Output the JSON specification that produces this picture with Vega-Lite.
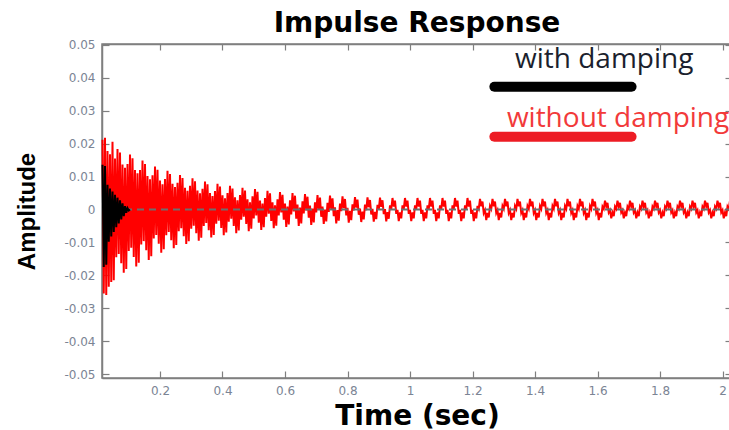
{
"$schema": "https://vega.github.io/schema/vega-lite/v6.json",
"width": 630,
"height": 334,
"autosize": "none",
"padding": {"left": 102, "top": 44, "right": 0, "bottom": 52},
"background": "white",
"title": {"text": "Impulse Response", "font": "DejaVu Sans", "fontSize": 28, "fontWeight": "bold", "color": "#000000", "anchor": "middle", "frame": "group", "offset": 1},
"config": {
  "view": {"stroke": "#7f7f7f", "strokeWidth": 1.5},
  "axis": {"grid": false, "domainColor": "#7f7f7f", "domainWidth": 1.5, "tickColor": "#7f7f7f", "tickWidth": 1.2, "labelFont": "DejaVu Sans", "labelFontSize": 12, "labelColor": "#7b8494", "labelFlush": false, "labelOverlap": false}
},
"datasets": {
"red": [
{"t":0.016,"a":0.0212},{"t":0.02,"a":-0.0255},{"t":0.024,"a":0.0218},{"t":0.028,"a":-0.026},{"t":0.032,"a":0.0178},{"t":0.036,"a":-0.0235},{"t":0.04,"a":0.0168},{"t":0.044,"a":-0.022},{"t":0.048,"a":0.0206},{"t":0.052,"a":-0.0215},
{"t":0.056,"a":0.0155},{"t":0.06,"a":-0.0145},{"t":0.064,"a":0.0184},{"t":0.068,"a":-0.0135},{"t":0.072,"a":0.0173},{"t":0.076,"a":-0.0163},{"t":0.08,"a":0.0137},{"t":0.084,"a":-0.0192},{"t":0.088,"a":0.0127},{"t":0.092,"a":-0.0181},
{"t":0.096,"a":0.0138},{"t":0.1,"a":-0.0126},{"t":0.104,"a":0.0167},{"t":0.108,"a":-0.0116},{"t":0.112,"a":0.0156},{"t":0.116,"a":-0.0144},{"t":0.12,"a":0.012},{"t":0.124,"a":-0.0173},{"t":0.128,"a":0.011},{"t":0.132,"a":-0.0162},
{"t":0.136,"a":0.012},{"t":0.14,"a":-0.0106},{"t":0.144,"a":0.0149},{"t":0.148,"a":-0.0096},{"t":0.152,"a":0.0138},{"t":0.156,"a":-0.0124},{"t":0.16,"a":0.0102},{"t":0.164,"a":-0.0153},{"t":0.168,"a":0.0092},{"t":0.172,"a":-0.0142},
{"t":0.176,"a":0.0104},{"t":0.18,"a":-0.0088},{"t":0.184,"a":0.0131},{"t":0.188,"a":-0.0077},{"t":0.192,"a":0.0121},{"t":0.196,"a":-0.0104},{"t":0.2,"a":0.0088},{"t":0.204,"a":-0.0131},{"t":0.208,"a":0.0077},{"t":0.212,"a":-0.0121},
{"t":0.216,"a":0.0093},{"t":0.22,"a":-0.0078},{"t":0.224,"a":0.0118},{"t":0.228,"a":-0.0068},{"t":0.232,"a":0.0108},{"t":0.236,"a":-0.0093},{"t":0.24,"a":0.0078},{"t":0.244,"a":-0.0118},{"t":0.248,"a":0.0068},{"t":0.252,"a":-0.0108},
{"t":0.256,"a":0.0081},{"t":0.26,"a":-0.0066},{"t":0.264,"a":0.0105},{"t":0.268,"a":-0.0057},{"t":0.272,"a":0.0096},{"t":0.276,"a":-0.0081},{"t":0.28,"a":0.0066},{"t":0.284,"a":-0.0105},{"t":0.288,"a":0.0057},{"t":0.292,"a":-0.0096},
{"t":0.296,"a":0.0072},{"t":0.3,"a":-0.0058},{"t":0.304,"a":0.0095},{"t":0.308,"a":-0.0049},{"t":0.312,"a":0.0086},{"t":0.316,"a":-0.0072},{"t":0.32,"a":0.0058},{"t":0.324,"a":-0.0095},{"t":0.328,"a":0.0049},{"t":0.332,"a":-0.0086},
{"t":0.336,"a":0.0063},{"t":0.34,"a":-0.005},{"t":0.344,"a":0.0085},{"t":0.348,"a":-0.0041},{"t":0.352,"a":0.0077},{"t":0.356,"a":-0.0063},{"t":0.36,"a":0.005},{"t":0.364,"a":-0.0085},{"t":0.368,"a":0.0041},{"t":0.372,"a":-0.0077},
{"t":0.376,"a":0.0056},{"t":0.38,"a":-0.0043},{"t":0.384,"a":0.0078},{"t":0.388,"a":-0.0034},{"t":0.392,"a":0.007},{"t":0.396,"a":-0.0056},{"t":0.4,"a":0.0043},{"t":0.404,"a":-0.0078},{"t":0.408,"a":0.0034},{"t":0.412,"a":-0.007},
{"t":0.416,"a":0.005},{"t":0.42,"a":-0.0037},{"t":0.424,"a":0.0072},{"t":0.428,"a":-0.0028},{"t":0.432,"a":0.0064},{"t":0.436,"a":-0.005},{"t":0.44,"a":0.0037},{"t":0.444,"a":-0.0072},{"t":0.448,"a":0.0028},{"t":0.452,"a":-0.0064},
{"t":0.456,"a":0.0044},{"t":0.46,"a":-0.0031},{"t":0.464,"a":0.0066},{"t":0.468,"a":-0.0022},{"t":0.472,"a":0.0058},{"t":0.476,"a":-0.0044},{"t":0.48,"a":0.0031},{"t":0.484,"a":-0.0066},{"t":0.488,"a":0.0022},{"t":0.492,"a":-0.0058},
{"t":0.496,"a":0.004},{"t":0.5,"a":-0.0027},{"t":0.504,"a":0.0062},{"t":0.508,"a":-0.0018},{"t":0.512,"a":0.0054},{"t":0.516,"a":-0.004},{"t":0.52,"a":0.0027},{"t":0.524,"a":-0.0062},{"t":0.528,"a":0.0018},{"t":0.532,"a":-0.0054},
{"t":0.536,"a":0.0035},{"t":0.54,"a":-0.0022},{"t":0.544,"a":0.0057},{"t":0.548,"a":-0.0013},{"t":0.552,"a":0.0049},{"t":0.556,"a":-0.0035},{"t":0.56,"a":0.0022},{"t":0.564,"a":-0.0057},{"t":0.568,"a":0.0013},{"t":0.572,"a":-0.0049},
{"t":0.576,"a":0.0031},{"t":0.58,"a":-0.0018},{"t":0.584,"a":0.0053},{"t":0.588,"a":-0.0009},{"t":0.592,"a":0.0045},{"t":0.596,"a":-0.0031},{"t":0.6,"a":0.0018},{"t":0.604,"a":-0.0053},{"t":0.608,"a":0.0009},{"t":0.612,"a":-0.0045},
{"t":0.616,"a":0.0028},{"t":0.62,"a":-0.0015},{"t":0.624,"a":0.005},{"t":0.628,"a":-0.0006},{"t":0.632,"a":0.0042},{"t":0.636,"a":-0.0028},{"t":0.64,"a":0.0015},{"t":0.644,"a":-0.005},{"t":0.648,"a":0.0006},{"t":0.652,"a":-0.0042},
{"t":0.656,"a":0.0025},{"t":0.66,"a":-0.0012},{"t":0.664,"a":0.0047},{"t":0.668,"a":-0.0003},{"t":0.672,"a":0.0039},{"t":0.676,"a":-0.0025},{"t":0.68,"a":0.0012},{"t":0.684,"a":-0.0047},{"t":0.688,"a":0.0003},{"t":0.692,"a":-0.0039},
{"t":0.696,"a":0.0022},{"t":0.7,"a":-0.0009},{"t":0.704,"a":0.0044},{"t":0.708,"a":0},{"t":0.712,"a":0.0036},{"t":0.716,"a":-0.0022},{"t":0.72,"a":0.0009},{"t":0.724,"a":-0.0044},{"t":0.728,"a":0},{"t":0.732,"a":-0.0036},
{"t":0.736,"a":0.002},{"t":0.74,"a":-0.0007},{"t":0.744,"a":0.0042},{"t":0.748,"a":0.0002},{"t":0.752,"a":0.0034},{"t":0.756,"a":-0.002},{"t":0.76,"a":0.0007},{"t":0.764,"a":-0.0042},{"t":0.768,"a":-0.0002},{"t":0.772,"a":-0.0034},
{"t":0.776,"a":0.0018},{"t":0.78,"a":-0.0005},{"t":0.784,"a":0.004},{"t":0.788,"a":0.0004},{"t":0.792,"a":0.0032},{"t":0.796,"a":-0.0018},{"t":0.8,"a":0.0005},{"t":0.804,"a":-0.004},{"t":0.808,"a":-0.0004},{"t":0.812,"a":-0.0032},
{"t":0.816,"a":0.0016},{"t":0.82,"a":-0.0003},{"t":0.824,"a":0.0038},{"t":0.828,"a":0.0006},{"t":0.832,"a":0.003},{"t":0.836,"a":-0.0016},{"t":0.84,"a":0.0003},{"t":0.844,"a":-0.0038},{"t":0.848,"a":-0.0006},{"t":0.852,"a":-0.003},
{"t":0.856,"a":0.0015},{"t":0.86,"a":-0.0002},{"t":0.864,"a":0.0037},{"t":0.868,"a":0.0007},{"t":0.872,"a":0.0029},{"t":0.876,"a":-0.0015},{"t":0.88,"a":0.0002},{"t":0.884,"a":-0.0037},{"t":0.888,"a":-0.0007},{"t":0.892,"a":-0.0029},
{"t":0.896,"a":0.0014},{"t":0.9,"a":-0.0001},{"t":0.904,"a":0.0036},{"t":0.908,"a":0.0008},{"t":0.912,"a":0.0028},{"t":0.916,"a":-0.0014},{"t":0.92,"a":0.0001},{"t":0.924,"a":-0.0036},{"t":0.928,"a":-0.0008},{"t":0.932,"a":-0.0028},
{"t":0.936,"a":0.0013},{"t":0.94,"a":0.0001},{"t":0.944,"a":0.0035},{"t":0.948,"a":0.0009},{"t":0.952,"a":0.0027},{"t":0.956,"a":-0.0013},{"t":0.96,"a":-0.0001},{"t":0.964,"a":-0.0035},{"t":0.968,"a":-0.0009},{"t":0.972,"a":-0.0027},
{"t":0.976,"a":0.0013},{"t":0.98,"a":0.0001},{"t":0.984,"a":0.0035},{"t":0.988,"a":0.0009},{"t":0.992,"a":0.0027},{"t":0.996,"a":-0.0013},{"t":1,"a":-0.0001},{"t":1.004,"a":-0.0035},{"t":1.008,"a":-0.0009},{"t":1.012,"a":-0.0027},
{"t":1.016,"a":0.0013},{"t":1.02,"a":0.0001},{"t":1.024,"a":0.0035},{"t":1.028,"a":0.0009},{"t":1.032,"a":0.0027},{"t":1.036,"a":-0.0013},{"t":1.04,"a":-0.0001},{"t":1.044,"a":-0.0035},{"t":1.048,"a":-0.0009},{"t":1.052,"a":-0.0027},
{"t":1.056,"a":0.0013},{"t":1.06,"a":0.0001},{"t":1.064,"a":0.0035},{"t":1.068,"a":0.0009},{"t":1.072,"a":0.0027},{"t":1.076,"a":-0.0013},{"t":1.08,"a":-0.0001},{"t":1.084,"a":-0.0035},{"t":1.088,"a":-0.0009},{"t":1.092,"a":-0.0027},
{"t":1.096,"a":0.0013},{"t":1.1,"a":0.0001},{"t":1.104,"a":0.0035},{"t":1.108,"a":0.0009},{"t":1.112,"a":0.0027},{"t":1.116,"a":-0.0013},{"t":1.12,"a":-0.0001},{"t":1.124,"a":-0.0035},{"t":1.128,"a":-0.0009},{"t":1.132,"a":-0.0027},
{"t":1.136,"a":0.0013},{"t":1.14,"a":0.0001},{"t":1.144,"a":0.0035},{"t":1.148,"a":0.0009},{"t":1.152,"a":0.0027},{"t":1.156,"a":-0.0013},{"t":1.16,"a":-0.0001},{"t":1.164,"a":-0.0035},{"t":1.168,"a":-0.0009},{"t":1.172,"a":-0.0027},
{"t":1.176,"a":0.0013},{"t":1.18,"a":0.0001},{"t":1.184,"a":0.0035},{"t":1.188,"a":0.0009},{"t":1.192,"a":0.0027},{"t":1.196,"a":-0.0013},{"t":1.2,"a":-0.0001},{"t":1.204,"a":-0.0035},{"t":1.208,"a":-0.0009},{"t":1.212,"a":-0.0027},
{"t":1.216,"a":0.0011},{"t":1.22,"a":0.0002},{"t":1.224,"a":0.0032},{"t":1.228,"a":0.001},{"t":1.232,"a":0.0024},{"t":1.236,"a":-0.0011},{"t":1.24,"a":-0.0002},{"t":1.244,"a":-0.0032},{"t":1.248,"a":-0.001},{"t":1.252,"a":-0.0024},
{"t":1.256,"a":0.0011},{"t":1.26,"a":0.0002},{"t":1.264,"a":0.0032},{"t":1.268,"a":0.001},{"t":1.272,"a":0.0024},{"t":1.276,"a":-0.0011},{"t":1.28,"a":-0.0002},{"t":1.284,"a":-0.0032},{"t":1.288,"a":-0.001},{"t":1.292,"a":-0.0024},
{"t":1.296,"a":0.0011},{"t":1.3,"a":0.0002},{"t":1.304,"a":0.0032},{"t":1.308,"a":0.001},{"t":1.312,"a":0.0024},{"t":1.316,"a":-0.0011},{"t":1.32,"a":-0.0002},{"t":1.324,"a":-0.0032},{"t":1.328,"a":-0.001},{"t":1.332,"a":-0.0024},
{"t":1.336,"a":0.0011},{"t":1.34,"a":0.0002},{"t":1.344,"a":0.0032},{"t":1.348,"a":0.001},{"t":1.352,"a":0.0024},{"t":1.356,"a":-0.0011},{"t":1.36,"a":-0.0002},{"t":1.364,"a":-0.0032},{"t":1.368,"a":-0.001},{"t":1.372,"a":-0.0024},
{"t":1.376,"a":0.0011},{"t":1.38,"a":0.0002},{"t":1.384,"a":0.0032},{"t":1.388,"a":0.001},{"t":1.392,"a":0.0024},{"t":1.396,"a":-0.0011},{"t":1.4,"a":-0.0002},{"t":1.404,"a":-0.0032},{"t":1.408,"a":-0.001},{"t":1.412,"a":-0.0024},
{"t":1.416,"a":0.0011},{"t":1.42,"a":0.0002},{"t":1.424,"a":0.0032},{"t":1.428,"a":0.001},{"t":1.432,"a":0.0024},{"t":1.436,"a":-0.0011},{"t":1.44,"a":-0.0002},{"t":1.444,"a":-0.0032},{"t":1.448,"a":-0.001},{"t":1.452,"a":-0.0024},
{"t":1.456,"a":0.0011},{"t":1.46,"a":0.0002},{"t":1.464,"a":0.0032},{"t":1.468,"a":0.001},{"t":1.472,"a":0.0024},{"t":1.476,"a":-0.0011},{"t":1.48,"a":-0.0002},{"t":1.484,"a":-0.0032},{"t":1.488,"a":-0.001},{"t":1.492,"a":-0.0024},
{"t":1.496,"a":0.0011},{"t":1.5,"a":0.0002},{"t":1.504,"a":0.0032},{"t":1.508,"a":0.001},{"t":1.512,"a":0.0024},{"t":1.516,"a":-0.0011},{"t":1.52,"a":-0.0002},{"t":1.524,"a":-0.0032},{"t":1.528,"a":-0.001},{"t":1.532,"a":-0.0024},
{"t":1.536,"a":0.0011},{"t":1.54,"a":0.0002},{"t":1.544,"a":0.0032},{"t":1.548,"a":0.001},{"t":1.552,"a":0.0024},{"t":1.556,"a":-0.0011},{"t":1.56,"a":-0.0002},{"t":1.564,"a":-0.0032},{"t":1.568,"a":-0.001},{"t":1.572,"a":-0.0024},
{"t":1.576,"a":0.0011},{"t":1.58,"a":0.0002},{"t":1.584,"a":0.0032},{"t":1.588,"a":0.001},{"t":1.592,"a":0.0024},{"t":1.596,"a":-0.0011},{"t":1.6,"a":-0.0002},{"t":1.604,"a":-0.0032},{"t":1.608,"a":-0.001},{"t":1.612,"a":-0.0024},
{"t":1.616,"a":0.0009},{"t":1.62,"a":0.0002},{"t":1.624,"a":0.0027},{"t":1.628,"a":0.0009},{"t":1.632,"a":0.002},{"t":1.636,"a":-0.0009},{"t":1.64,"a":-0.0002},{"t":1.644,"a":-0.0027},{"t":1.648,"a":-0.0009},{"t":1.652,"a":-0.002},
{"t":1.656,"a":0.0009},{"t":1.66,"a":0.0002},{"t":1.664,"a":0.0027},{"t":1.668,"a":0.0009},{"t":1.672,"a":0.002},{"t":1.676,"a":-0.0009},{"t":1.68,"a":-0.0002},{"t":1.684,"a":-0.0027},{"t":1.688,"a":-0.0009},{"t":1.692,"a":-0.002},
{"t":1.696,"a":0.0009},{"t":1.7,"a":0.0002},{"t":1.704,"a":0.0027},{"t":1.708,"a":0.0009},{"t":1.712,"a":0.002},{"t":1.716,"a":-0.0009},{"t":1.72,"a":-0.0002},{"t":1.724,"a":-0.0027},{"t":1.728,"a":-0.0009},{"t":1.732,"a":-0.002},
{"t":1.736,"a":0.0009},{"t":1.74,"a":0.0002},{"t":1.744,"a":0.0027},{"t":1.748,"a":0.0009},{"t":1.752,"a":0.002},{"t":1.756,"a":-0.0009},{"t":1.76,"a":-0.0002},{"t":1.764,"a":-0.0027},{"t":1.768,"a":-0.0009},{"t":1.772,"a":-0.002},
{"t":1.776,"a":0.0009},{"t":1.78,"a":0.0002},{"t":1.784,"a":0.0027},{"t":1.788,"a":0.0009},{"t":1.792,"a":0.002},{"t":1.796,"a":-0.0009},{"t":1.8,"a":-0.0002},{"t":1.804,"a":-0.0027},{"t":1.808,"a":-0.0009},{"t":1.812,"a":-0.002},
{"t":1.816,"a":0.0009},{"t":1.82,"a":0.0002},{"t":1.824,"a":0.0027},{"t":1.828,"a":0.0009},{"t":1.832,"a":0.002},{"t":1.836,"a":-0.0009},{"t":1.84,"a":-0.0002},{"t":1.844,"a":-0.0027},{"t":1.848,"a":-0.0009},{"t":1.852,"a":-0.002},
{"t":1.856,"a":0.0009},{"t":1.86,"a":0.0002},{"t":1.864,"a":0.0027},{"t":1.868,"a":0.0009},{"t":1.872,"a":0.002},{"t":1.876,"a":-0.0009},{"t":1.88,"a":-0.0002},{"t":1.884,"a":-0.0027},{"t":1.888,"a":-0.0009},{"t":1.892,"a":-0.002},
{"t":1.896,"a":0.0009},{"t":1.9,"a":0.0002},{"t":1.904,"a":0.0027},{"t":1.908,"a":0.0009},{"t":1.912,"a":0.002},{"t":1.916,"a":-0.0009},{"t":1.92,"a":-0.0002},{"t":1.924,"a":-0.0027},{"t":1.928,"a":-0.0009},{"t":1.932,"a":-0.002},
{"t":1.936,"a":0.0009},{"t":1.94,"a":0.0002},{"t":1.944,"a":0.0027},{"t":1.948,"a":0.0009},{"t":1.952,"a":0.002},{"t":1.956,"a":-0.0009},{"t":1.96,"a":-0.0002},{"t":1.964,"a":-0.0027},{"t":1.968,"a":-0.0009},{"t":1.972,"a":-0.002},
{"t":1.976,"a":0.0009},{"t":1.98,"a":0.0002},{"t":1.984,"a":0.0027},{"t":1.988,"a":0.0009},{"t":1.992,"a":0.002},{"t":1.996,"a":-0.0009},{"t":2,"a":-0.0002},{"t":2.004,"a":-0.0027},{"t":2.008,"a":-0.0009},{"t":2.012,"a":-0.002},
{"t":2.016,"a":0.0009},{"t":2.02,"a":0.0002},{"t":2.024,"a":0.0027},{"t":2.028,"a":0.0009}
],
"black": [
{"t":0.016,"a":0.0136},{"t":0.02,"a":-0.0175},{"t":0.024,"a":0.0132},{"t":0.028,"a":-0.0168},{"t":0.032,"a":0.0075},{"t":0.036,"a":-0.0098},{"t":0.04,"a":0.0064},{"t":0.044,"a":-0.0082},{"t":0.048,"a":0.0055},{"t":0.052,"a":-0.0068},{"t":0.056,"a":0.0045},{"t":0.06,"a":-0.0054},{"t":0.064,"a":0.0036},{"t":0.068,"a":-0.0042},{"t":0.072,"a":0.0028},{"t":0.076,"a":-0.003},{"t":0.08,"a":0.0019},{"t":0.084,"a":-0.002},{"t":0.088,"a":0.001},{"t":0.092,"a":-0.001},{"t":0.096,"a":0.0004},{"t":0.1,"a":-0.0003},{"t":0.104,"a":0}
]
},
"layer": [
{
  "data": {"name": "red"},
  "mark": {"type": "line", "color": "#ff0000", "strokeWidth": 2},
  "encoding": {
    "x": {"field": "t", "type": "quantitative", "scale": {"domain": [0.0144, 2.0304], "nice": false, "zero": false},
      "axis": {"orient": "bottom", "values": [0.2,0.4,0.6,0.8,1,1.2,1.4,1.6,1.8,2], "format": "~g", "tickSize": -7, "labelPadding": 14, "title": "Time (sec)", "titleFont": "DejaVu Sans", "titleFontSize": 28, "titleFontWeight": "bold", "titleColor": "#000000", "titlePadding": 6}},
    "y": {"field": "a", "type": "quantitative", "scale": {"domain": [-0.0512, 0.0503], "nice": false, "zero": false},
      "axis": {"orient": "left", "values": [-0.05,-0.04,-0.03,-0.02,-0.01,0,0.01,0.02,0.03,0.04,0.05], "labelExpr": "replace(format(datum.value, '.2~f'), '−', '-')", "tickSize": -7, "labelPadding": 14, "title": "Amplitude", "titleFont": "Liberation Sans", "titleFontSize": 24, "titleFontWeight": "bold", "titleColor": "#000000", "titlePadding": 24}}
  }
},
{
  "data": {"values": [{"z": 0}]},
  "mark": {"type": "rule", "color": "#6e6e6e", "strokeWidth": 2, "strokeDash": [7, 5]},
  "encoding": {"y": {"field": "z", "type": "quantitative", "axis": null}}
},
{
  "data": {"name": "black"},
  "mark": {"type": "line", "color": "#000000", "strokeWidth": 2},
  "encoding": {
    "x": {"field": "t", "type": "quantitative", "axis": {"orient": "top", "values": [0.2,0.4,0.6,0.8,1,1.2,1.4,1.6,1.8,2], "labels": false, "tickSize": -6, "title": null}},
    "y": {"field": "a", "type": "quantitative", "axis": {"orient": "right", "values": [-0.05,-0.04,-0.03,-0.02,-0.01,0,0.01,0.02,0.03,0.04,0.05], "labels": false, "tickSize": -7, "title": null}}
  }
},
{
  "data": {"values": [{"series": "with damping"}]},
  "mark": {"type": "rule", "color": "#000000", "strokeWidth": 10, "strokeCap": "round"},
  "encoding": {"x": {"datum": 1.27, "type": "quantitative", "axis": null}, "x2": {"datum": 1.709}, "y": {"datum": 0.0373, "type": "quantitative", "axis": null}}
},
{
  "data": {"values": [{"series": "without damping"}]},
  "mark": {"type": "rule", "color": "#ed1c24", "strokeWidth": 10, "strokeCap": "round"},
  "encoding": {"x": {"datum": 1.27, "type": "quantitative", "axis": null}, "x2": {"datum": 1.709}, "y": {"datum": 0.0221, "type": "quantitative", "axis": null}}
},
{
  "data": {"values": [{"series": "with damping"}]},
  "mark": {"type": "text", "align": "left", "baseline": "alphabetic", "font": "Open Sans", "fontSize": 28, "color": "#1b1f2e"},
  "encoding": {"x": {"datum": 1.336, "type": "quantitative", "axis": null}, "y": {"datum": 0.043, "type": "quantitative", "axis": null}, "text": {"field": "series"}}
},
{
  "data": {"values": [{"series": "without damping"}]},
  "mark": {"type": "text", "align": "left", "baseline": "alphabetic", "font": "Open Sans", "fontSize": 28, "color": "#f23a3a"},
  "encoding": {"x": {"datum": 1.31, "type": "quantitative", "axis": null}, "y": {"datum": 0.0251, "type": "quantitative", "axis": null}, "text": {"field": "series"}}
}
],
"resolve": {"axis": {"x": "independent", "y": "independent"}}
}
